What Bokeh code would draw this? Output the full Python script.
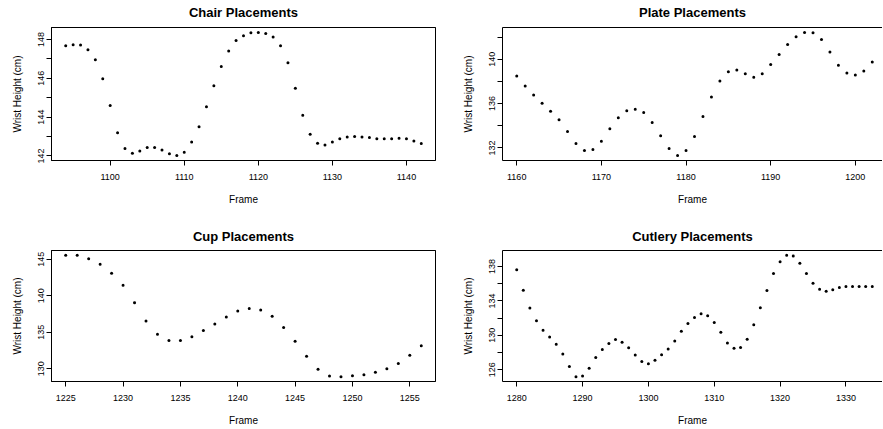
from bokeh.plotting import figure
from bokeh.layouts import column, row
from bokeh.models import FixedTicker, Range1d, LinearAxis
from bokeh.embed import file_html
from bokeh.resources import INLINE

# ---------------- data ----------------
chair_frame = list(range(1094, 1143))
chair_height = [147.67, 147.72, 147.71, 147.47, 146.95, 145.97, 144.60, 143.20, 142.38, 142.14,
                142.26, 142.43, 142.43, 142.31, 142.12, 142.02, 142.19, 142.72, 143.50, 144.53,
                145.61, 146.60, 147.40, 147.95, 148.19, 148.34, 148.36, 148.31, 148.12, 147.67,
                146.80, 145.49, 144.10, 143.12, 142.65, 142.57, 142.72, 142.88, 142.98, 143.00,
                142.98, 142.95, 142.89, 142.89, 142.89, 142.91, 142.88, 142.77, 142.64]

plate_frame = list(range(1160, 1203))
plate_height = [138.49, 137.58, 136.77, 136.02, 135.32, 134.54, 133.48, 132.39, 131.76, 131.85,
                132.60, 133.72, 134.72, 135.35, 135.50, 135.20, 134.29, 133.09, 131.94, 131.31,
                131.76, 133.03, 134.84, 136.59, 138.04, 138.88, 139.03, 138.70, 138.37, 138.70,
                139.52, 140.42, 141.33, 142.02, 142.42, 142.38, 141.78, 140.66, 139.46, 138.76,
                138.58, 138.94, 139.76]

cup_frame = list(range(1225, 1257))
cup_height = [145.54, 145.54, 145.09, 144.32, 143.10, 141.43, 139.04, 136.55, 134.74, 133.88,
              133.88, 134.38, 135.24, 136.14, 137.09, 137.91, 138.27, 138.04, 137.18, 135.65,
              133.75, 131.71, 129.91, 129.00, 128.91, 129.05, 129.18, 129.50, 130.00, 130.72,
              131.85, 133.16]

cutlery_frame = list(range(1280, 1335))
cutlery_height = [137.62, 135.25, 133.19, 131.70, 130.59, 129.82, 128.98, 127.84, 126.38, 125.20,
                  125.28, 126.19, 127.42, 128.37, 129.06, 129.52, 129.21, 128.56, 127.72, 126.96,
                  126.69, 127.11, 127.76, 128.41, 129.33, 130.47, 131.39, 132.08, 132.50, 132.27,
                  131.50, 130.36, 129.10, 128.49, 128.60, 129.56, 131.24, 133.22, 135.21, 137.20,
                  138.57, 139.30, 139.22, 138.38, 137.20, 136.05, 135.36, 135.13, 135.29, 135.55,
                  135.67, 135.67, 135.67, 135.67, 135.67]

chair_xticks = [1100, 1110, 1120, 1130, 1140]
chair_yticks = [142, 143, 144, 145, 146, 147, 148]
chair_ylabels = [142, 144, 146, 148]

plate_xticks = [1160, 1170, 1180, 1190, 1200]
plate_yticks = [132, 134, 136, 138, 140, 142]
plate_ylabels = [132, 136, 140]

cup_xticks = [1225, 1230, 1235, 1240, 1245, 1250, 1255]
cup_yticks = [130, 135, 140, 145]
cup_ylabels = [130, 135, 140, 145]

cutlery_xticks = [1280, 1290, 1300, 1310, 1320, 1330]
cutlery_yticks = [126, 128, 130, 132, 134, 136, 138]
cutlery_ylabels = [126, 130, 134, 138]

titles = ["Chair Placements", "Plate Placements", "Cup Placements", "Cutlery Placements"]
x_label = "Frame"
y_label = "Wrist Height (cm)"

FONT = "Liberation Sans"

# ---------------- layout ----------------
W_LEFT, W_RIGHT = 451, 431
H_TOP, H_BOT = 223, 205
MB_LEFT = 51
MB_RIGHT_FULL = 16
FULL_FRAME_W = W_LEFT - MB_LEFT - MB_RIGHT_FULL


def r_range(vals):
    lo, hi = min(vals), max(vals)
    pad = 0.04 * (hi - lo)
    return lo - pad, hi + pad


def panel(title, xs, ys, xticks, yticks, ylabels, width, height, mb_top, mb_bottom, cropped,
          title_standoff):
    x0, x1 = r_range(xs)
    y0, y1 = r_range(ys)
    mb_right = 0 if cropped else MB_RIGHT_FULL
    if cropped:
        visible = width - MB_LEFT - mb_right
        x1 = x0 + (x1 - x0) * visible / FULL_FRAME_W
    p = figure(width=width, height=height, output_backend="svg", toolbar_location=None,
               x_range=Range1d(x0, x1), y_range=Range1d(y0, y1),
               min_border_left=MB_LEFT, min_border_right=mb_right,
               min_border_top=mb_top, min_border_bottom=mb_bottom,
               background_fill_color="white", border_fill_color="white")
    p.grid.visible = False
    p.outline_line_color = None if cropped else "black"
    p.outline_line_alpha = 1.0
    p.outline_line_width = 1

    bottom = p.below[0]
    left = p.left[0]

    # title drawn as the label of an empty top axis (its line is the frame's top edge)
    top = LinearAxis(ticker=FixedTicker(ticks=[]), axis_label=title,
                     axis_line_color="black", major_tick_line_color=None,
                     minor_tick_line_color=None, major_tick_out=0, major_tick_in=0,
                     minor_tick_out=0, minor_tick_in=0, major_label_standoff=0,
                     major_label_text_font_size="0px",
                     axis_label_standoff=title_standoff,
                     axis_label_text_font=FONT, axis_label_text_font_size="13px",
                     axis_label_text_font_style="bold", axis_label_text_color="black")
    p.add_layout(top, "above")

    p.scatter(xs, ys, size=3.0, marker="circle", fill_color="black", line_color=None)

    bottom.ticker = FixedTicker(ticks=xticks)
    left.ticker = FixedTicker(ticks=yticks)
    left.major_label_overrides = {t: ("" if t not in ylabels else str(t)) for t in yticks}
    left.major_label_orientation = "vertical"

    for ax in (bottom, left):
        ax.axis_line_color = "black"
        ax.major_tick_line_color = "black"
        ax.major_tick_out = 5
        ax.major_tick_in = 0
        ax.minor_tick_line_color = None
        ax.major_label_text_font = FONT
        ax.major_label_text_font_size = "9px"
        ax.major_label_text_color = "black"
        ax.axis_label_text_font = FONT
        ax.axis_label_text_font_size = "10px"
        ax.axis_label_text_font_style = "normal"
        ax.axis_label_text_color = "black"
    bottom.major_label_standoff = 8
    bottom.axis_label_standoff = 11
    left.major_label_standoff = 2
    left.axis_label_standoff = 13
    bottom.axis_label = x_label
    left.axis_label = y_label
    return p


p1 = panel(titles[0], chair_frame, chair_height, chair_xticks, chair_yticks, chair_ylabels,
           W_LEFT, H_TOP, 27, 63, False, 8)
p2 = panel(titles[1], plate_frame, plate_height, plate_xticks, plate_yticks, plate_ylabels,
           W_RIGHT, H_TOP, 27, 63, True, 8)
p3 = panel(titles[2], cup_frame, cup_height, cup_xticks, cup_yticks, cup_ylabels,
           W_LEFT, H_BOT, 27, 45, False, 7)
p4 = panel(titles[3], cutlery_frame, cutlery_height, cutlery_xticks, cutlery_yticks, cutlery_ylabels,
           W_RIGHT, H_BOT, 27, 45, True, 7)

layout = column(row(p1, p2), row(p3, p4))

open("out.html", "w").write(file_html(layout, INLINE))
